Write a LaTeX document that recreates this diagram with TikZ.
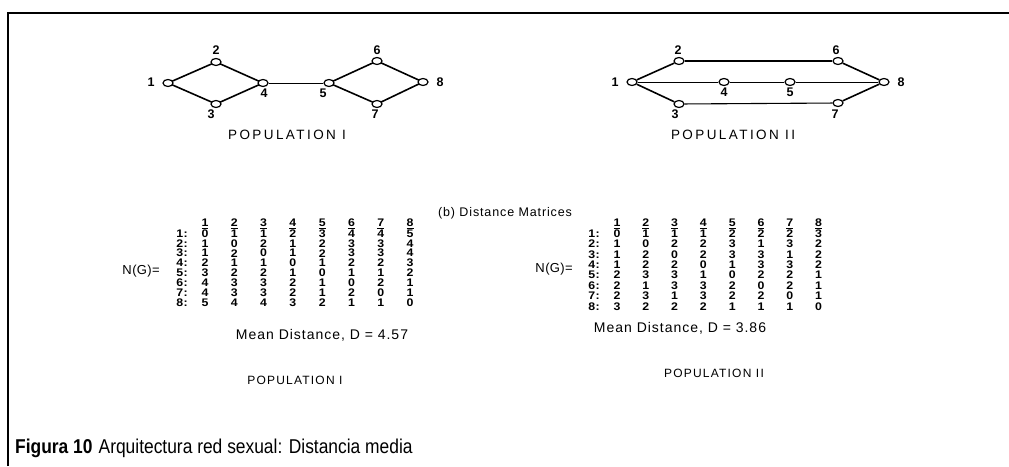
\documentclass[tikz,border=0pt]{standalone}
\usepackage{fontspec}
\setmainfont{Liberation Sans}
\newfontfamily\lsA[LetterSpace=7]{Liberation Sans}
\newfontfamily\lsB[LetterSpace=18]{Liberation Sans}
\newfontfamily\lsD[LetterSpace=10]{Liberation Sans}
\newfontfamily\lsC[LetterSpace=3]{Liberation Sans}
\usetikzlibrary{shapes.geometric}
\newcommand{\wdig}[1]{\scalebox{1.12}[1]{#1}}
\tikzset{
  vtx/.style={draw, ellipse, minimum width=10pt, minimum height=7pt, inner sep=0pt, line width=1.2pt, fill=white},
  lbl/.style={inner sep=0pt, font=\bfseries\fontsize{12.5}{12.5}\selectfont},
  thickedge/.style={line width=1.6pt},
  midedge/.style={line width=1.1pt},
  thinedge/.style={line width=0.8pt},
  mat/.style={inner sep=0pt, font=\lsC\bfseries\fontsize{11}{11}\selectfont},
  poptxt/.style={inner sep=0pt, font=\lsB\fontsize{13.5}{13.5}\selectfont},
  popsmall/.style={inner sep=0pt, font=\lsD\fontsize{12}{12}\selectfont},
  meantxt/.style={inner sep=0pt, font=\lsA\fontsize{14}{14}\selectfont},
}
\begin{document}
\begin{tikzpicture}[x=1pt,y=-1pt]
\useasboundingbox (0,0) rectangle (1009,466);
\fill[white] (0,0) rectangle (1009,466);
\draw[line width=2pt] (8,466) -- (8,12.5) -- (1009,12.5);

% ---------- Population I graph ----------
\draw[thickedge] (168,83) coordinate (p1) -- (216,62) coordinate (p2) -- (263,83) coordinate (p4) -- (216,104) coordinate (p3) -- cycle;
\draw[thickedge] (329,83) coordinate (p5) -- (377,61) coordinate (p6) -- (423,82) coordinate (p8) -- (377,104) coordinate (p7) -- cycle;
\node[vtx] (a1) at (p1) {};
\node[vtx] (a2) at (p2) {};
\node[vtx] (a3) at (p3) {};
\node[vtx] (a4) at (p4) {};
\node[vtx] (a5) at (p5) {};
\node[vtx] (a6) at (p6) {};
\node[vtx] (a7) at (p7) {};
\node[vtx] (a8) at (p8) {};
\draw[thinedge] (a4) -- (a5);
\node[lbl] (la1) at (151,82) {1};
\node[lbl] (la2) at (216,50) {2};
\node[lbl] (la3) at (211,114) {3};
\node[lbl] (la4) at (264,93) {4};
\node[lbl] (la5) at (323,93) {5};
\node[lbl] (la6) at (377,50) {6};
\node[lbl] (la7) at (375,114) {7};
\node[lbl] (la8) at (440,82) {8};
\node[poptxt] (popIa) at (287,135) {POPULATION I};

% ---------- Population II graph ----------
\node[vtx] (b1) at (632,82) {};
\node[vtx] (b2) at (679,61) {};
\node[vtx] (b3) at (679,104) {};
\node[vtx] (b4) at (724,82) {};
\node[vtx] (b5) at (790,82) {};
\node[vtx] (b6) at (838,61) {};
\node[vtx] (b7) at (838,103) {};
\node[vtx] (b8) at (884,82) {};
\draw[thickedge] (b1) -- (b2);
\draw[thickedge] (b1) -- (b3);
\draw[thickedge] (b6) -- (b8);
\draw[thickedge] (b7) -- (b8);
\draw[midedge] (b2) -- (b6);
\draw[midedge] (b3) -- (b7);
\draw[thinedge] (b1) -- (b4);
\draw[thinedge] (b4) -- (b5);
\draw[thinedge] (b5) -- (b8);
\node[lbl] (lb1) at (615,82) {1};
\node[lbl] (lb2) at (678,50) {2};
\node[lbl] (lb3) at (675,114) {3};
\node[lbl] (lb4) at (724,92) {4};
\node[lbl] (lb5) at (790,92) {5};
\node[lbl] (lb6) at (836,50) {6};
\node[lbl] (lb7) at (835,114) {7};
\node[lbl] (lb8) at (901,82) {8};
\node[poptxt] (popIIa) at (733,135) {POPULATION II};

% ---------- Title ----------
\node[inner sep=0pt, font=\lsA\fontsize{12.5}{12.5}\selectfont] (dm) at (505,213) {(b) Distance Matrices};

% ---------- Matrix I ----------
\node[inner sep=0pt, font=\lsC\fontsize{13}{13}\selectfont, anchor=east] (ng1) at (160,271) {N(G)=};
\foreach \c in {1,...,8}{
  \node[mat] (m1h\c) at ({205+29.3*(\c-1)},224) {\wdig{\underline{\c}}};
}
\foreach \r/\row in {1/{0,1,1,2,3,4,4,5},2/{1,0,2,1,2,3,3,4},3/{1,2,0,1,2,3,3,4},4/{2,1,1,0,1,2,2,3},5/{3,2,2,1,0,1,1,2},6/{4,3,3,2,1,0,2,1},7/{4,3,3,2,1,2,0,1},8/{5,4,4,3,2,1,1,0}}{
  \node[mat, anchor=east] (m1r\r) at (188,{233.5+9.85*(\r-1)}) {\wdig{\r:}};
  \foreach \v [count=\c] in \row {
    \node[mat] (m1-\r-\c) at ({205+29.3*(\c-1)},{233.5+9.85*(\r-1)}) {\wdig{\v}};
  }
}

% ---------- Matrix II ----------
\node[inner sep=0pt, font=\lsC\fontsize{13}{13}\selectfont, anchor=east] (ng2) at (573,269) {N(G)=};
\foreach \c in {1,...,8}{
  \node[mat] (m2h\c) at ({617+28.8*(\c-1)},224) {\wdig{\underline{\c}}};
}
\foreach \r/\row in {1/{0,1,1,1,2,2,2,3},2/{1,0,2,2,3,1,3,2},3/{1,2,0,2,3,3,1,2},4/{1,2,2,0,1,3,3,2},5/{2,3,3,1,0,2,2,1},6/{2,1,3,3,2,0,2,1},7/{2,3,1,3,2,2,0,1},8/{3,2,2,2,1,1,1,0}}{
  \node[mat, anchor=east] (m2r\r) at (600,{233.5+10.4*(\r-1)}) {\wdig{\r:}};
  \foreach \v [count=\c] in \row {
    \node[mat] (m2-\r-\c) at ({617+28.8*(\c-1)},{233.5+10.4*(\r-1)}) {\wdig{\v}};
  }
}

% ---------- Mean distances ----------
\node[meantxt] (md1) at (322,335) {Mean Distance, D = 4.57};
\node[meantxt] (md2) at (680,328) {Mean Distance, D = 3.86};
\node[popsmall] (popIb) at (295,380) {POPULATION I};
\node[popsmall] (popIIb) at (714,373) {POPULATION II};

% ---------- Caption ----------
\node[inner sep=0pt, anchor=west] (cap) at (15,448) {\scalebox{0.87}[1]{\fontsize{20}{20}\selectfont\textbf{Figura 10}\hspace{7pt}Arquitectura red sexual: Distancia media}};
\end{tikzpicture}
\end{document}
